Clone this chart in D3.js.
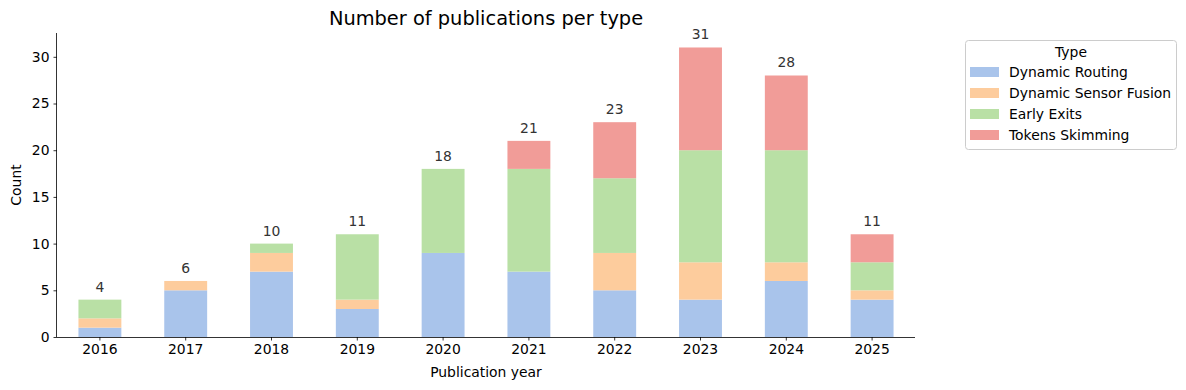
<!DOCTYPE html>
<html>
<head>
<meta charset="utf-8">
<script src="https://cdn.jsdelivr.net/npm/d3@7"></script>
<style>
  body { margin: 0; background: #fff; }
  svg { font-family: "DejaVu Sans", sans-serif; }
</style>
</head>
<body>
<svg id="chart" width="1186" height="390"></svg>
<script>
var years = ["2016", "2017", "2018", "2019", "2020", "2021", "2022", "2023", "2024", "2025"];
var types = ["Dynamic Routing", "Dynamic Sensor Fusion", "Early Exits", "Tokens Skimming"];
var dynamicRouting      = [1, 5, 7, 3, 9, 7, 5, 4, 6, 4];
var dynamicSensorFusion = [1, 1, 2, 1, 0, 0, 4, 4, 2, 1];
var earlyExits          = [2, 0, 1, 7, 9, 11, 8, 12, 12, 3];
var tokensSkimming      = [0, 0, 0, 0, 0, 3, 6, 11, 8, 3];
var colors = ["#a9c4eb", "#fdcc9d", "#b9e0a5", "#f19c98"];
var yTicks = [0, 5, 10, 15, 20, 25, 30];

var seriesValues = [dynamicRouting, dynamicSensorFusion, earlyExits, tokensSkimming];
var rows = years.map(function (y, i) {
  var r = { year: y };
  types.forEach(function (t, k) { r[t] = seriesValues[k][i]; });
  return r;
});
var totals = rows.map(function (r) { return d3.sum(types, function (t) { return r[t]; }); });

var margin = { left: 57, right: 271, top: 33, bottom: 53 };
var width = 1186, height = 390;
var fs = 13.9;
var svg = d3.select("#chart");

var x = d3.scaleBand().domain(years)
    .range([margin.left, width - margin.right])
    .paddingInner(0.5).paddingOuter(0.25);
var y = d3.scaleLinear().domain([0, d3.max(totals) * 1.05])
    .range([height - margin.bottom, margin.top]);

var stack = d3.stack().keys(types);
var layers = stack(rows);

svg.append("g").selectAll("g")
  .data(layers)
  .enter().append("g")
    .attr("fill", function (d, i) { return colors[i]; })
  .selectAll("rect")
  .data(function (d) { return d; })
  .enter().append("rect")
    .attr("x", function (d) { return x(d.data.year); })
    .attr("width", x.bandwidth())
    .attr("y", function (d) { return y(d[1]); })
    .attr("height", function (d) { return y(d[0]) - y(d[1]); });

// totals above bars
svg.append("g").selectAll("text")
  .data(rows)
  .enter().append("text")
    .attr("x", function (d) { return x(d.year) + x.bandwidth() / 2; })
    .attr("y", function (d, i) { return y(totals[i]) - 8; })
    .attr("text-anchor", "middle")
    .attr("font-size", fs)
    .attr("fill", "#333")
    .text(function (d, i) { return totals[i]; });

// axes
var xAxis = svg.append("g")
    .attr("transform", "translate(0," + (height - margin.bottom) + ")")
    .call(d3.axisBottom(x).tickSize(3.5).tickPadding(4));
var yAxis = svg.append("g")
    .attr("transform", "translate(" + margin.left + ",0)")
    .call(d3.axisLeft(y).tickValues(yTicks).tickSize(3.5).tickPadding(4));
[xAxis, yAxis].forEach(function (a) {
  a.selectAll("text").attr("font-size", fs).attr("fill", "#000").attr("font-family", "DejaVu Sans");
  a.selectAll("line").attr("stroke", "#000").attr("stroke-width", 0.8);
  a.select(".domain").attr("stroke", "#000").attr("stroke-width", 0.8);
});
xAxis.select(".domain").attr("d", "M" + margin.left + ",0.5H" + (width - margin.right));
yAxis.select(".domain").attr("d", "M-0.5," + margin.top + "V" + (height - margin.bottom));

// titles
svg.append("text")
    .attr("x", (margin.left + width - margin.right) / 2)
    .attr("y", 25)
    .attr("text-anchor", "middle")
    .attr("font-size", 19.4)
    .text("Number of publications per type");
svg.append("text")
    .attr("x", (margin.left + width - margin.right) / 2)
    .attr("y", 377)
    .attr("text-anchor", "middle")
    .attr("font-size", fs)
    .text("Publication year");
svg.append("text")
    .attr("transform", "translate(21," + ((margin.top + height - margin.bottom) / 2) + ") rotate(-90)")
    .attr("text-anchor", "middle")
    .attr("font-size", fs)
    .text("Count");

// legend
var lg = svg.append("g").attr("transform", "translate(965,40)");
lg.append("rect")
    .attr("x", 0.5).attr("y", 0.5)
    .attr("width", 211).attr("height", 109)
    .attr("rx", 3)
    .attr("fill", "#fff").attr("stroke", "#ccc");
lg.append("text")
    .attr("x", 106).attr("y", 17)
    .attr("text-anchor", "middle")
    .attr("font-size", fs)
    .text("Type");
types.forEach(function (t, i) {
  var yy = 27 + i * 21;
  lg.append("rect").attr("x", 5).attr("y", yy).attr("width", 29).attr("height", 10).attr("fill", colors[i]);
  lg.append("text").attr("x", 44).attr("y", yy + 10).attr("font-size", fs).text(t);
});
</script>
</body>
</html>
